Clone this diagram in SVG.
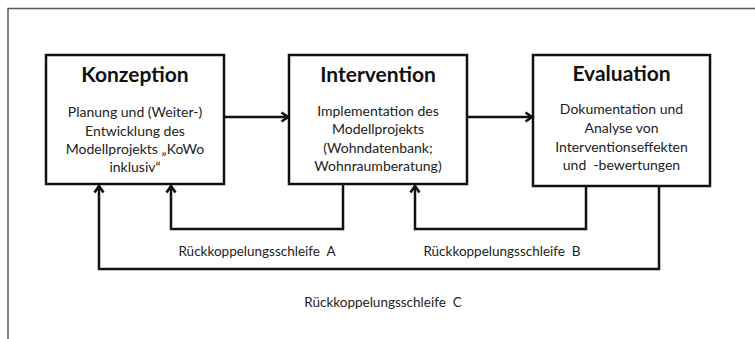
<svg xmlns="http://www.w3.org/2000/svg" width="755" height="339" viewBox="0 0 755 339">
<style>
.frame{fill:none;stroke:#5a5a5a;stroke-width:1.5}
.box{fill:#fff;stroke:#111;stroke-width:2.5}
.title{font-family:Lato,"Liberation Sans",sans-serif;font-weight:bold;font-size:21px;fill:#111;text-anchor:middle}
.body{font-family:Lato,"Liberation Sans",sans-serif;font-size:14px;fill:#222;text-anchor:middle;white-space:pre}
.lbl{font-family:Lato,"Liberation Sans",sans-serif;font-size:13.5px;fill:#222;text-anchor:middle;white-space:pre}
.con{fill:none;stroke:#111;stroke-width:2.5;stroke-linejoin:miter}
</style>
<defs>
<marker id="ah" markerWidth="12" markerHeight="12" refX="9" refY="6" orient="auto" markerUnits="userSpaceOnUse">
<path d="M2.5,1.5 L9,6 L2.5,10.5" fill="none" stroke="#111" stroke-width="2.6"/>
</marker>
</defs>
<rect width="755" height="339" fill="#fff"/>
<path class="frame" d="M8,339 V8.5 H755"/>
<g id="konzeption">
<rect class="box" x="46" y="55" width="178" height="129"/>
<text class="title" x="135" y="82">Konzeption</text>
<text class="body" x="135" y="117">Planung und (Weiter-)</text>
<text class="body" x="135" y="136">Entwicklung des</text>
<text class="body" x="135" y="154">Modellprojekts „KoWo</text>
<text class="body" x="135" y="172">inklusiv“</text>
</g>
<g id="intervention">
<rect class="box" x="289" y="55" width="178" height="129"/>
<text class="title" x="378" y="82">Intervention</text>
<text class="body" x="378" y="116">Implementation des</text>
<text class="body" x="378" y="134">Modellprojekts</text>
<text class="body" x="378" y="153">(Wohndatenbank;</text>
<text class="body" x="378" y="171">Wohnraumberatung)</text>
</g>
<g id="evaluation">
<rect class="box" x="533" y="55" width="177" height="131"/>
<text class="title" x="621.5" y="81">Evaluation</text>
<text class="body" x="621.5" y="114">Dokumentation und</text>
<text class="body" x="621.5" y="133">Analyse von</text>
<text class="body" x="621.5" y="152">Interventionseffekten</text>
<text class="body" x="621.5" y="170">und  -bewertungen</text>
</g>
<g id="connectors">
<line class="con" x1="224" y1="117" x2="288" y2="117" marker-end="url(#ah)"/>
<line class="con" x1="467" y1="117" x2="532" y2="117" marker-end="url(#ah)"/>
<path class="con" d="M343,184 V229 H171 V186" marker-end="url(#ah)"/>
<path class="con" d="M586,186 V229 H415 V186" marker-end="url(#ah)"/>
<path class="con" d="M659,186 V269 H99 V186" marker-end="url(#ah)"/>
</g>
<g id="labels">
<text class="lbl" x="257" y="256">Rückkoppelungsschleife  A</text>
<text class="lbl" x="502" y="256">Rückkoppelungsschleife  B</text>
<text class="lbl" x="383" y="307">Rückkoppelungsschleife  C</text>
</g>
</svg>
